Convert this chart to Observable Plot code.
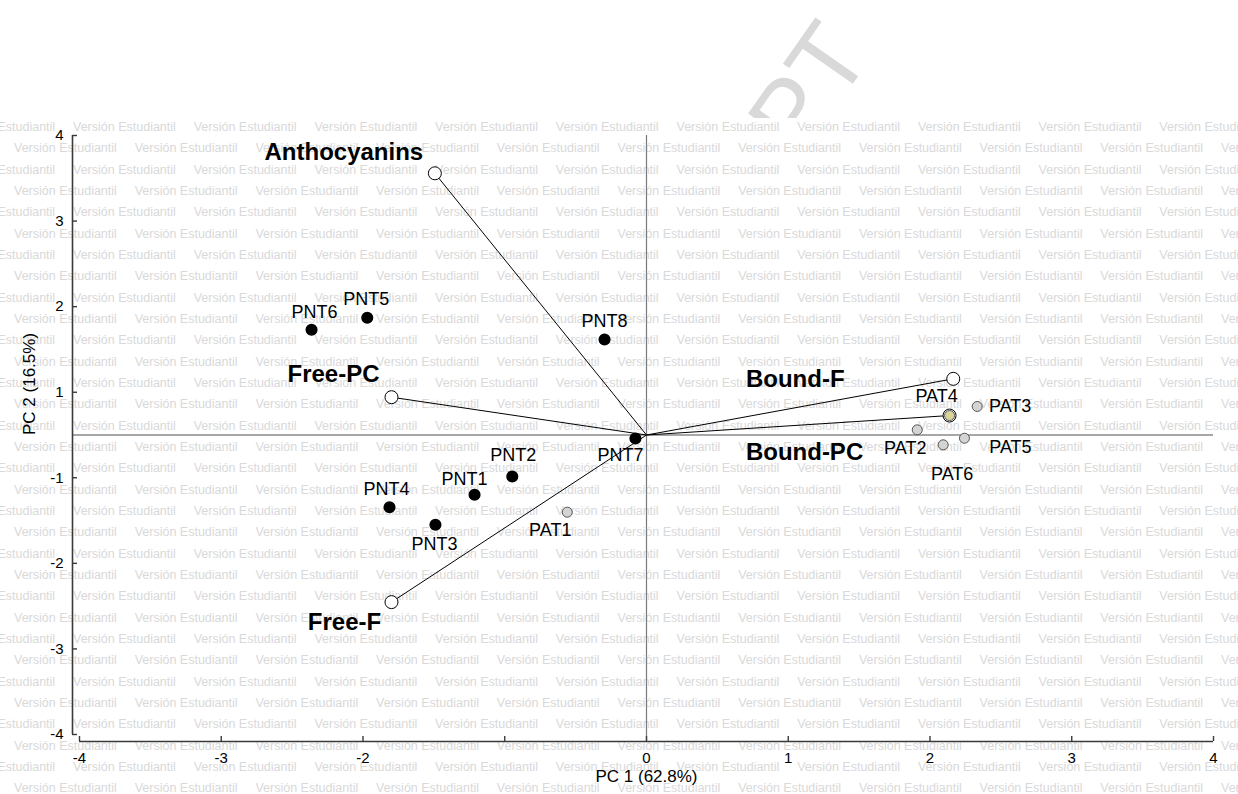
<!DOCTYPE html>
<html>
<head>
<meta charset="utf-8">
<script src="https://cdn.jsdelivr.net/npm/d3@7"></script>
<script src="https://cdn.jsdelivr.net/npm/@observablehq/plot@0.6"></script>
<style>
html, body { margin: 0; padding: 0; background: #fff; }
#wrap { position: relative; width: 1238px; height: 794px; overflow: hidden; font-family: "Liberation Sans", Arial, sans-serif; }
#stamp { position: absolute; left: 0; top: 0; }
#wm { position: absolute; left: 0; top: 118px; width: 1238px; height: 676px; background: #fff; overflow: hidden; }
#wm span { position: absolute; font-size: 12.5px; line-height: 16px; color: #d9d9d9; white-space: nowrap; }
#chart { position: absolute; left: 0; top: 0; }
</style>
</head>
<body>
<div id="wrap">
  <svg id="stamp" width="1238" height="118">
    <text x="873" y="55" text-anchor="end" transform="rotate(-55 873 55)" font-family="Liberation Sans, Arial, sans-serif" font-size="100" fill="#d9d9d9">PT</text>
  </svg>
  <div id="wm"></div>
  <div id="chart"></div>
</div>
<script>
// ---- data ----
const scoreNames = ["PNT1","PNT2","PNT3","PNT4","PNT5","PNT6","PNT7","PNT8","PAT1","PAT2","PAT3","PAT4","PAT5","PAT6"];
const scorePC1 = [-1.213,-0.947,-1.489,-1.813,-1.970,-2.363,-0.078,-0.296,-0.559,1.910,2.333,2.138,2.243,2.093];
const scorePC2 = [-0.798,-0.554,-1.199,-0.964,1.565,1.405,-0.047,1.275,-1.031,0.069,0.381,0.260,-0.043,-0.131];
const scoreGroups = ["PNT","PNT","PNT","PNT","PNT","PNT","PNT","PNT","PAT","PAT","PAT","PAT","PAT","PAT"];

const loadingNames = ["Anthocyanins","Free-PC","Free-F","Bound-F","Bound-PC"];
const loadingPC1 = [-1.493,-1.799,-1.799,2.164,2.138];
const loadingPC2 = [3.495,0.505,-2.232,0.750,0.260];

const xTickValues = [-4,-3,-2,-1,0,1,2,3,4];
const xTickLabels = ["-4","-3","-2","","0","1","2","3","4"];
const yTickValues = [4,2.857,1.714,0.571,-0.571,-1.714,-2.857,-4];
const yTickLabels = ["4","3","2","1","-1","-2","-3","-4"];

const xTitle = "PC 1 (62.8%)";
const yTitle = "PC 2 (16.5%)";
const watermarkText = "Versión Estudiantil";

// ---- label placement (pixel offsets, layout only) ----
const scoreLabelOffset = {
  PNT1:[-10,-16], PNT2:[1,-21], PNT3:[-1,19], PNT4:[-3,-18], PNT5:[-1,-19], PNT6:[3,-18],
  PNT7:[-15,17], PNT8:[0,-18], PAT1:[-17,18], PAT2:[-12,18], PAT3:[33,0], PAT4:[-13,-19],
  PAT5:[46,9], PAT6:[9,29]
};
const loadingLabelOffset = {
  "Anthocyanins":[-91,-21], "Free-PC":[-58,-23], "Free-F":[-47,20], "Bound-F":[-158,0], "Bound-PC":[-145,37]
};

// ---- tables ----
const scores = scoreNames.map((n,i) => ({name:n, x:scorePC1[i], y:scorePC2[i], group:scoreGroups[i]}));
const loadings = loadingNames.map((n,i) => ({name:n, x:loadingPC1[i], y:loadingPC2[i]}));
const xTicks = xTickValues.map((v,i) => ({v, label:xTickLabels[i]}));
const yTicks = yTickValues.map((v,i) => ({v, label:yTickLabels[i]}));

// ---- watermark ----
const wm = document.getElementById("wm");
for (let i = 0; i < 32; i++) {
  const cy = 127 + i * 21.33 - 118;
  const start = i % 2 === 0 ? -47.7 : -106.7;
  for (let k = 0; start + k * 120.7 < 1238; k++) {
    const s = document.createElement("span");
    s.textContent = watermarkText;
    s.style.left = (start + k * 120.7) + "px";
    s.style.top = (cy - 8) + "px";
    wm.appendChild(s);
  }
}

// ---- chart ----
const axisColor = "#3a3a3a";
const font = "Liberation Sans, Arial, sans-serif";

const marks = [
  Plot.ruleX([0], {stroke:"#7a7a7a", strokeWidth:1.2, insetBottom:-7}),
  Plot.ruleY([0], {stroke:"#8a8a8a", strokeWidth:1.5, insetLeft:-7}),
  // axes
  Plot.ruleX([-4], {y1:-4, y2:4, dx:-7, stroke:axisColor, strokeWidth:1.6}),
  Plot.ruleY([-4], {x1:-4, x2:4, dy:7, stroke:axisColor, strokeWidth:1.6}),
  Plot.ruleY(yTicks, {y:"v", x1:-4, x2:-4, dx:-7, insetRight:-5, stroke:axisColor, strokeWidth:1.4}),
  Plot.ruleX(xTicks, {x:"v", y1:-4, y2:-4, dy:7, insetBottom:5, stroke:axisColor, strokeWidth:1.4}),
  Plot.text(yTicks, {x:-4, y:"v", text:"label", textAnchor:"end", dx:-16, fontSize:15, fill:"black"}),
  Plot.text(xTicks, {x:"v", y:-4, text:"label", dy:24, fontSize:15, fill:"black"}),
  Plot.text([xTitle], {frameAnchor:"bottom", dy:47, fontSize:17, fill:"black"}),
  Plot.text([yTitle], {frameAnchor:"left", rotate:-90, dx:-50, fontSize:17, fill:"black"}),
  // loading vectors
  Plot.link(loadings, {x1:0, y1:0, x2:"x", y2:"y", stroke:"black", strokeWidth:1}),
  Plot.dot(loadings, {x:"x", y:"y", r:6.5, fill:"white", stroke:"black", strokeWidth:1}),
  // scores
  Plot.dot(scores.filter(d => d.group === "PNT"), {x:"x", y:"y", r:5.3, fill:"black", stroke:"black"}),
  Plot.dot(scores.filter(d => d.group === "PAT" && d.name !== "PAT4"), {x:"x", y:"y", r:5, fill:"#d4d4d4", stroke:"#555", strokeWidth:1}),
  Plot.dot(scores.filter(d => d.name === "PAT4"), {x:"x", y:"y", r:5, fill:"#d8d49a", stroke:"#555", strokeWidth:1})
];

for (const d of scores) {
  const [dx, dy] = scoreLabelOffset[d.name];
  marks.push(Plot.text([d], {x:"x", y:"y", text:"name", dx, dy, fontSize:18, fill:"black"}));
}
for (const d of loadings) {
  const [dx, dy] = loadingLabelOffset[d.name];
  marks.push(Plot.text([d], {x:"x", y:"y", text:"name", dx, dy, fontSize:24, fontWeight:"bold", fill:"black"}));
}

const chart = Plot.plot({
  width: 1238,
  height: 794,
  marginLeft: 79,
  marginRight: 25,
  marginTop: 135,
  marginBottom: 60,
  x: {domain:[-4,4], axis:null},
  y: {domain:[-4,4], axis:null},
  style: {background:"transparent", fontFamily:font, overflow:"visible"},
  marks
});
document.getElementById("chart").appendChild(chart);
</script>
</body>
</html>
